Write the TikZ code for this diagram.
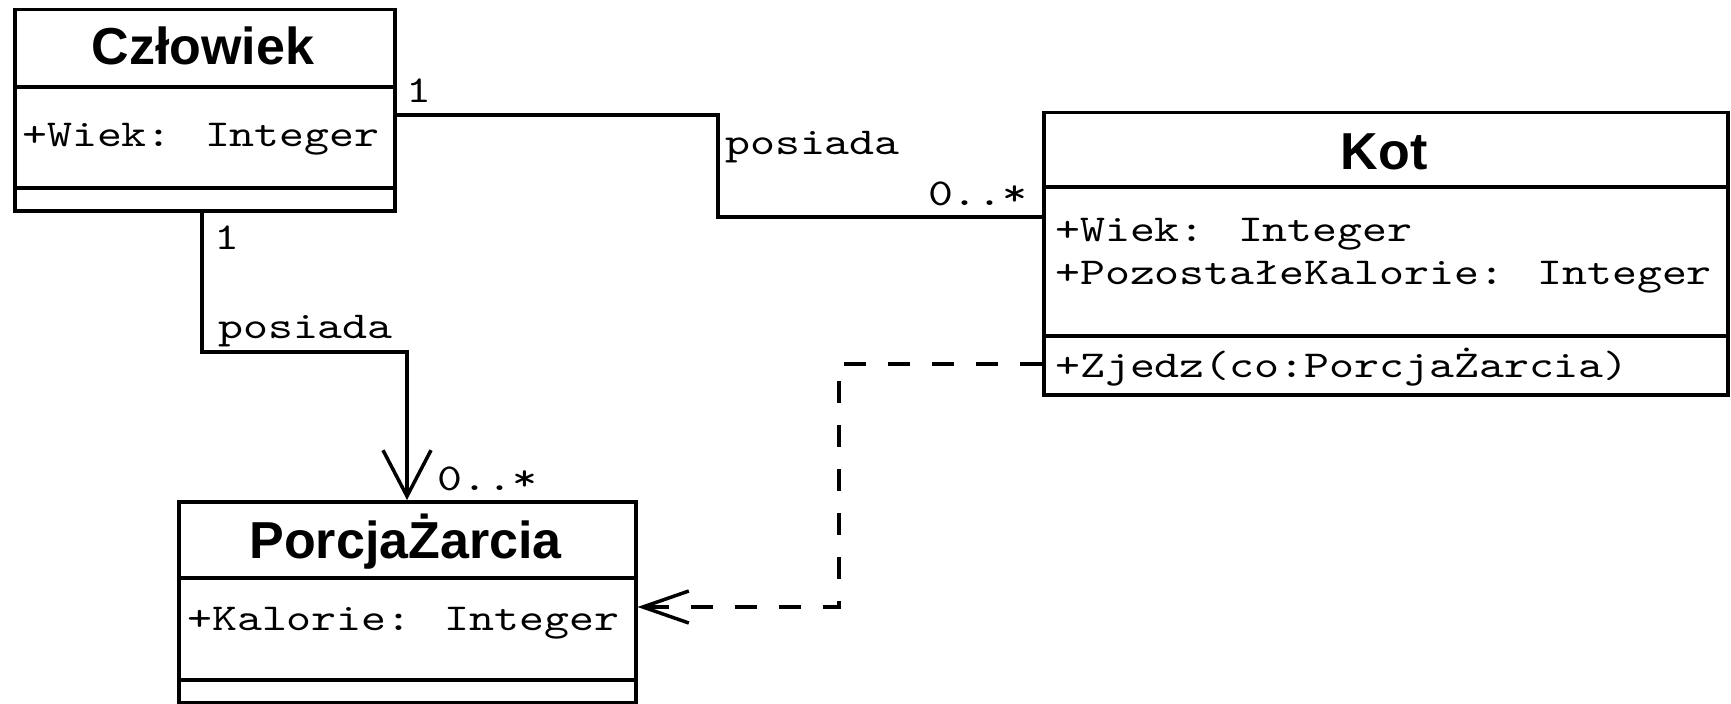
\documentclass[tikz,border=0pt]{standalone}
\usepackage{fontspec}
\setsansfont{Liberation Sans}
\newfontfamily\umltt{lmmono10-regular.otf}[FakeStretch=1.25]
\usetikzlibrary{arrows.meta}
\tikzset{
  x=1bp, y=-1bp,
  classbox/.style={draw, line width=3.5bp, inner sep=0pt, anchor=north west},
  divider/.style={line width=3.5bp},
  classtitle/.style={anchor=base, inner sep=0pt, font=\sffamily\bfseries\fontsize{52bp}{60bp}\selectfont},
  attr/.style={anchor=base west, inner sep=0pt, font=\umltt\fontsize{38bp}{44bp}\selectfont},
  assoc/.style={line width=3.5bp},
  depend/.style={line width=3.5bp, dash pattern=on 22bp off 22bp},
  openhead/.style={-{Straight Barb[length=46bp, width=48bp, line width=3.5bp]}},
  openheadsmall/.style={-{Straight Barb[length=46bp, width=32bp, line width=3.5bp]}}
}
\begin{document}
\begin{tikzpicture}
\useasboundingbox (0,0) rectangle (1731,704);
\fill[white] (0,0) rectangle (1731,704);

% Czlowiek
\node[classbox, minimum width=380bp, minimum height=201bp] (czl) at (13,8) {};
\draw[divider] (czl.west |- 0,87) -- (czl.east |- 0,87);
\draw[divider] (czl.west |- 0,188) -- (czl.east |- 0,188);
\node[classtitle] (czlt) at (203,65) {Człowiek};
\node[attr] (czla) at (22,147) {+Wiek: Integer};

% Kot
\node[classbox, minimum width=684bp, minimum height=282bp] (kot) at (1042,111) {};
\draw[divider] (kot.west |- 0,187) -- (kot.east |- 0,187);
\draw[divider] (kot.west |- 0,336) -- (kot.east |- 0,336);
\node[classtitle] (kott) at (1384,170) {Kot};
\node[attr] (kota) at (1055,241) {+Wiek: Integer};
\node[attr] (kotb) at (1055,284) {+PozostałeKalorie: Integer};
\node[attr] (kotm) at (1055,377) {+Zjedz(co:PorcjaŻarcia)};

% PorcjaZarcia
\node[classbox, minimum width=457bp, minimum height=201bp] (por) at (177,500) {};
\draw[divider] (por.west |- 0,578) -- (por.east |- 0,578);
\draw[divider] (por.west |- 0,680) -- (por.east |- 0,680);
\node[classtitle] (port) at (405.5,558) {PorcjaŻarcia};
\node[attr] (pora) at (187,630) {+Kalorie: Integer};

% Association Czlowiek - Kot
\draw[assoc] (czl.east |- 0,115) -- (718,115) -- (718,217) -- (kot.west |- 0,217);
\node[attr] (m1) at (406,103) {1};
\node[attr] (l1) at (725,155) {posiada};
\node[attr, anchor=base east] (m2) at (1028,205) {0..*};

% Association Czlowiek - PorcjaZarcia
\draw[assoc, openhead] (czl.south -| 202,0) -- (202,352) -- (407,352) -- (por.north -| 407,0);
\node[attr] (m3) at (214,249) {1};
\node[attr] (l2) at (218,338) {posiada};
\node[attr] (m4) at (437,490) {0..*};

% Dependency Kot - PorcjaZarcia
\draw[depend, openheadsmall] (kot.west |- 0,364) -- (839,364) -- (839,607) -- (por.east |- 0,607);
\end{tikzpicture}
\end{document}
